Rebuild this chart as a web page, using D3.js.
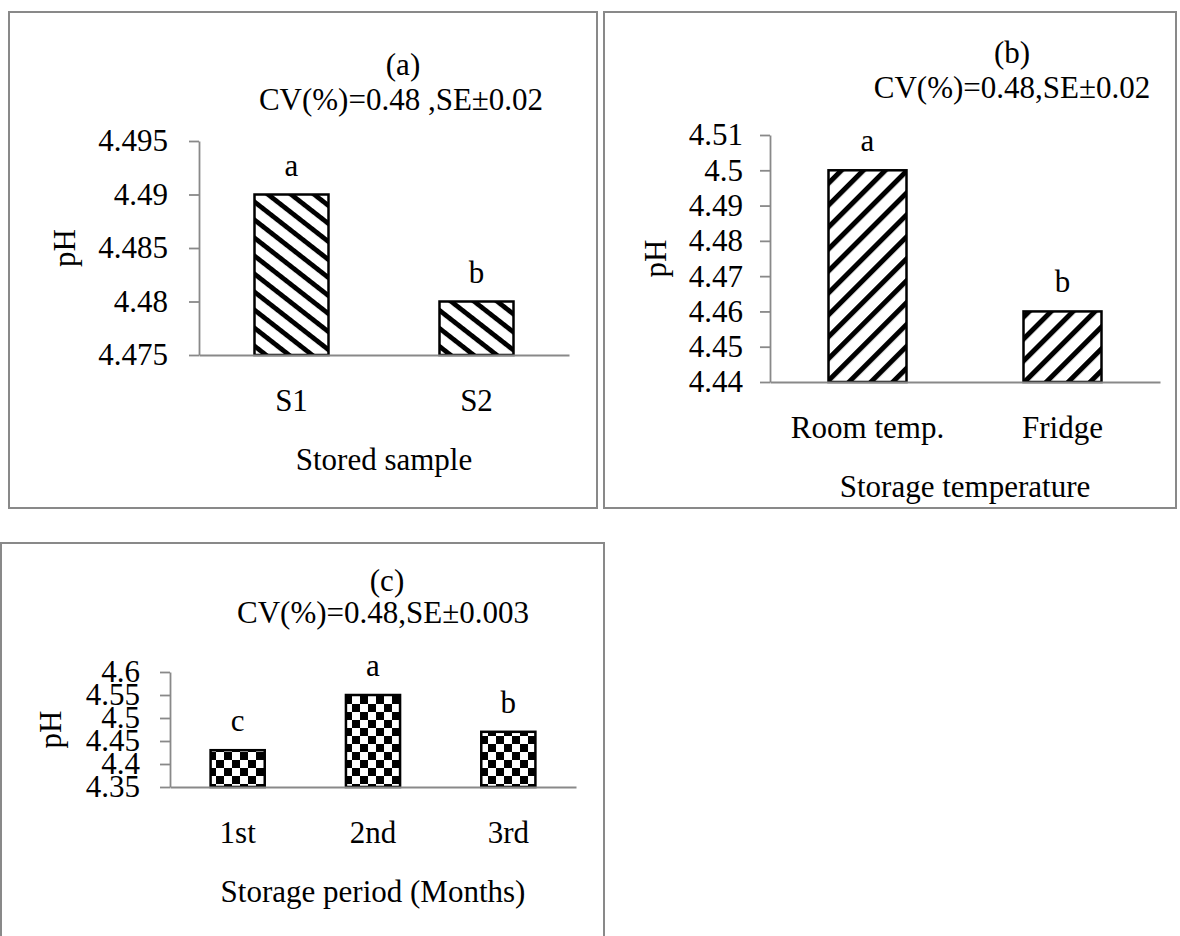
<!DOCTYPE html>
<html><head><meta charset="utf-8">
<script src="https://cdn.jsdelivr.net/npm/d3@7"></script>
<style>
html,body{margin:0;padding:0;background:#fff;}
svg{display:block;}
text{font-family:"Liberation Serif","Times New Roman",serif;fill:#000;}
</style></head><body>
<svg id="chart" width="1180" height="936"></svg>
<script>
// ---- Data: panel (a) Stored sample ----
const samples = ["S1", "S2"];
const samplePH = [4.49, 4.48];
const sampleLetters = ["a", "b"];
const sampleTicks = [4.475, 4.48, 4.485, 4.49, 4.495];
const sampleTickLabels = ["4.475", "4.48", "4.485", "4.49", "4.495"];

// ---- Data: panel (b) Storage temperature ----
const temps = ["Room temp.", "Fridge"];
const tempPH = [4.50, 4.46];
const tempLetters = ["a", "b"];
const tempTicks = [4.44, 4.45, 4.46, 4.47, 4.48, 4.49, 4.5, 4.51];
const tempTickLabels = ["4.44", "4.45", "4.46", "4.47", "4.48", "4.49", "4.5", "4.51"];

// ---- Data: panel (c) Storage period ----
const periods = ["1st", "2nd", "3rd"];
const periodPH = [4.43, 4.55, 4.47];
const periodLetters = ["c", "a", "b"];
const periodTicks = [4.35, 4.4, 4.45, 4.5, 4.55, 4.6];
const periodTickLabels = ["4.35", "4.4", "4.45", "4.5", "4.55", "4.6"];

const svg = d3.select("#chart");
const FS = 31;
const GRAY = "#898989";

// patterns
const defs = svg.append("defs");
function stripes(id, angle, period, thick) {
  const p = defs.append("pattern").attr("id", id)
    .attr("patternUnits", "userSpaceOnUse")
    .attr("width", 40).attr("height", period)
    .attr("patternTransform", `rotate(${angle})`);
  p.append("rect").attr("width", 40).attr("height", period).attr("fill", "#fff");
  p.append("rect").attr("y", 0).attr("width", 40).attr("height", thick).attr("fill", "#000");
}
stripes("diagDown", 38, 14.2, 4.8);
stripes("diagUp", -45, 15.5, 5);
const chk = defs.append("pattern").attr("id", "checker")
  .attr("patternUnits", "userSpaceOnUse").attr("width", 16).attr("height", 16);
chk.append("rect").attr("width", 16).attr("height", 16).attr("fill", "#fff");
chk.append("rect").attr("width", 8).attr("height", 8).attr("fill", "#000");
chk.append("rect").attr("x", 8).attr("y", 8).attr("width", 8).attr("height", 8).attr("fill", "#000");

function drawPanel(cfg) {
  const g = svg.append("g");
  // panel border
  g.append("rect")
    .attr("x", cfg.box[0]).attr("y", cfg.box[1])
    .attr("width", cfg.box[2] - cfg.box[0]).attr("height", cfg.box[3] - cfg.box[1])
    .attr("fill", "none").attr("stroke", GRAY).attr("stroke-width", 2);

  const y = d3.scaleLinear()
    .domain([cfg.ticks[0], cfg.ticks[cfg.ticks.length - 1]])
    .range([cfg.yBase, cfg.yTop]);
  const x = d3.scaleBand().domain(cfg.cats)
    .range([cfg.xLeft, cfg.xRight]).paddingInner(0.6).paddingOuter(0.3);

  // bars
  g.selectAll("rect.bar").data(cfg.cats).enter().append("rect")
    .attr("class", "bar")
    .attr("x", d => x(d))
    .attr("width", x.bandwidth())
    .attr("y", (d, i) => y(cfg.values[i]))
    .attr("height", (d, i) => y(cfg.ticks[0]) - y(cfg.values[i]))
    .attr("fill", `url(#${cfg.pattern})`)
    .attr("stroke", "#000").attr("stroke-width", 2.5);

  // significance letters
  g.selectAll("text.let").data(cfg.cats).enter().append("text")
    .attr("class", "let")
    .attr("x", d => x(d) + x.bandwidth() / 2)
    .attr("y", (d, i) => y(cfg.values[i]) - 19)
    .attr("text-anchor", "middle").style("font-size", FS + "px")
    .text((d, i) => cfg.letters[i]);

  // y axis
  const ya = g.append("g").attr("transform", `translate(${cfg.xLeft},0)`)
    .call(d3.axisLeft(y).tickValues(cfg.ticks)
      .tickFormat((d, i) => cfg.tickLabels[i])
      .tickSizeInner(10).tickSizeOuter(0).tickPadding(cfg.pad));
  ya.select(".domain").attr("stroke", GRAY).attr("stroke-width", 1.8);
  ya.selectAll(".tick line").attr("stroke", GRAY).attr("stroke-width", 1.8);
  ya.selectAll(".tick text").style("font-size", FS + "px")
    .style("font-family", '"Liberation Serif","Times New Roman",serif').attr("fill", "#000");

  // x axis
  const xa = g.append("g").attr("transform", `translate(0,${cfg.yBase})`)
    .call(d3.axisBottom(x).tickSize(0).tickSizeOuter(0));
  xa.select(".domain").attr("stroke", GRAY).attr("stroke-width", 1.8);
  xa.selectAll(".tick text").attr("y", 56).attr("dy", null)
    .style("font-size", FS + "px")
    .style("font-family", '"Liberation Serif","Times New Roman",serif').attr("fill", "#000");

  // x title
  g.append("text")
    .attr("x", (cfg.xLeft + cfg.xRight) / 2).attr("y", cfg.yBase + 115)
    .attr("text-anchor", "middle").style("font-size", FS + "px").text(cfg.xTitle);
  // y title
  g.append("text")
    .attr("transform", `translate(${cfg.pHx},${(cfg.yBase + cfg.yTop) / 2}) rotate(-90)`)
    .attr("text-anchor", "middle").attr("dominant-baseline", "central")
    .style("font-size", FS + "px").text("pH");
  // titles
  g.append("text").attr("x", cfg.t1[0]).attr("y", cfg.t1[1])
    .attr("text-anchor", "middle").style("font-size", FS + "px").text(cfg.title);
  g.append("text").attr("x", cfg.t2[0]).attr("y", cfg.t2[1])
    .attr("text-anchor", "middle").style("font-size", FS + "px").text(cfg.subtitle);
}

drawPanel({
  box: [9, 12, 597, 508],
  cats: samples, values: samplePH, letters: sampleLetters,
  ticks: sampleTicks, tickLabels: sampleTickLabels,
  yBase: 355, yTop: 141, xLeft: 199, xRight: 569, pad: 21,
  pattern: "diagDown", xTitle: "Stored sample", pHx: 64,
  title: "(a)", t1: [403, 75], subtitle: "CV(%)=0.48 ,SE\u00b10.02", t2: [401, 110]
});
drawPanel({
  box: [604, 12, 1176, 508],
  cats: temps, values: tempPH, letters: tempLetters,
  ticks: tempTicks, tickLabels: tempTickLabels,
  yBase: 382, yTop: 135, xLeft: 770, xRight: 1160, pad: 17,
  pattern: "diagUp", xTitle: "Storage temperature", pHx: 655,
  title: "(b)", t1: [1012, 63], subtitle: "CV(%)=0.48,SE\u00b10.02", t2: [1012, 98]
});
drawPanel({
  box: [1, 543, 604, 1040],
  cats: periods, values: periodPH, letters: periodLetters,
  ticks: periodTicks, tickLabels: periodTickLabels,
  yBase: 787, yTop: 672, xLeft: 170, xRight: 576, pad: 20,
  pattern: "checker", xTitle: "Storage period (Months)", pHx: 50,
  title: "(c)", t1: [387, 591], subtitle: "CV(%)=0.48,SE\u00b10.003", t2: [383, 623]
});
</script>
</body></html>
